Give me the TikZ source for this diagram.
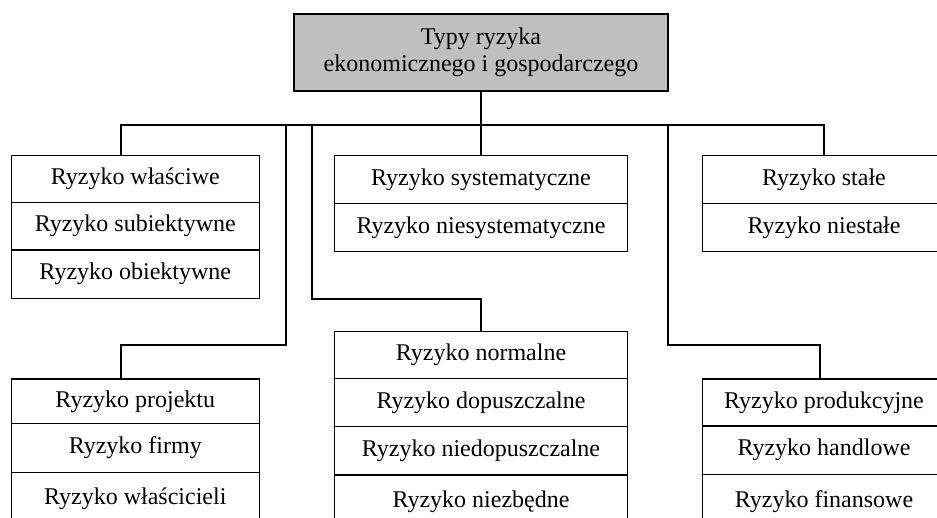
\documentclass[tikz,border=0pt]{standalone}
\usepackage{fontspec}
\setmainfont{Liberation Serif}
\begin{document}
\begin{tikzpicture}[x=1pt,y=-1pt,
  conn/.style={line width=2.2pt, line join=miter},
  cell/.style={draw, line width=1.3pt, rectangle, inner sep=0pt, outer sep=0pt,
    minimum height=47.6pt, anchor=north, font=\fontsize{24}{27.5}\selectfont},
  rowh/.style={minimum height=#1pt},
  sidecol/.style={cell, minimum width=248pt},
  midcol/.style={cell, minimum width=293.4pt},
  rightcol/.style={cell, minimum width=243pt},
  headbox/.style={draw, line width=1.3pt, fill=black!25, rectangle, inner sep=0pt,
    outer sep=0pt, minimum width=374pt, minimum height=77pt, align=center,
    font=\fontsize{24}{27.5}\selectfont}]
\useasboundingbox (0,0) rectangle (937,518);
\clip (0,0) rectangle (937,518);

% root
\node[headbox] (top) at (481,52.5) {Typy ryzyka\\ekonomicznego i gospodarczego};

% upper row of groups
\node[sidecol, rowh=46.6] (lt1) at (135.3,155.7) {Ryzyko właściwe};
\node[sidecol, rowh=47.7] (lt2) at (lt1.south) {Ryzyko subiektywne};
\node[sidecol, rowh=48.3] (lt3) at (lt2.south) {Ryzyko obiektywne};

\node[midcol, rowh=47.6] (mt1) at (481,155.7) {Ryzyko systematyczne};
\node[midcol, rowh=48.4] (mt2) at (mt1.south) {Ryzyko niesystematyczne};

\node[rightcol, rowh=47.6] (rt1) at (824,155.7) {Ryzyko stałe};
\node[rightcol, rowh=48.4] (rt2) at (rt1.south) {Ryzyko niestałe};

% lower row of groups (the last cells run past the lower edge)
\node[sidecol, rowh=44.8] (lb1) at (135.3,379) {Ryzyko projektu};
\node[sidecol, rowh=48.4] (lb2) at (lb1.south) {Ryzyko firmy};
\node[sidecol, rowh=54] (lb3) at (lb2.south) {Ryzyko właścicieli};

\node[midcol, rowh=46.6] (mb1) at (481,331.7) {Ryzyko normalne};
\node[midcol, rowh=48.4] (mb2) at (mb1.south) {Ryzyko dopuszczalne};
\node[midcol, rowh=48.3] (mb3) at (mb2.south) {Ryzyko niedopuszczalne};
\node[midcol, rowh=53] (mb4) at (mb3.south) {Ryzyko niezbędne};

\node[rightcol, rowh=47] (rb1) at (824,379) {Ryzyko produkcyjne};
\node[rightcol, rowh=48.3] (rb2) at (rb1.south) {Ryzyko handlowe};
\node[rightcol, rowh=54] (rb3) at (rb2.south) {Ryzyko finansowe};

% bus and branch points
\coordinate (busL) at (121,125);
\coordinate (busR) at (824,125);
\coordinate (brA) at (286,125);
\coordinate (brB) at (311.7,125);
\coordinate (brC) at (668.3,125);

% connectors
\draw[conn] (top.south) -- (mt1.north);
\draw[conn] (busL |- lt1.north) -- (busL) -- (busR) -- (rt1.north);
\draw[conn] (brA) -- ++(0,220) -| (busL |- lb1.north);
\draw[conn] (brB) -- ++(0,174) -| (mb1.north);
\draw[conn] (brC) -- ++(0,220) -| ([xshift=-4pt]rb1.north);
\end{tikzpicture}
\end{document}
